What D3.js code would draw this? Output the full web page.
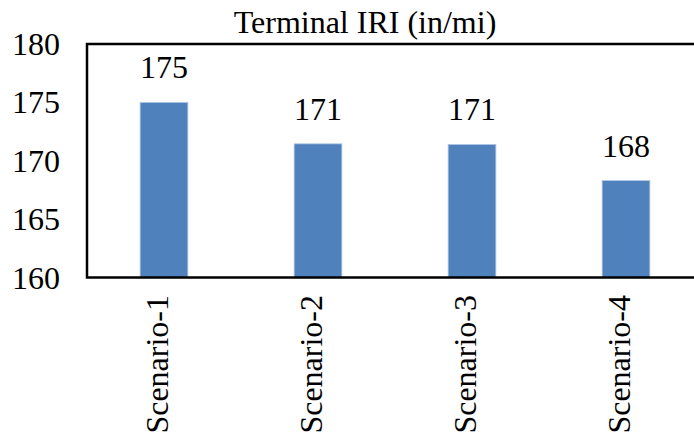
<!DOCTYPE html>
<html>
<head>
<meta charset="utf-8">
<script src="https://cdn.jsdelivr.net/npm/d3@7"></script>
</head>
<body style="margin:0">
<script>
// Terminal IRI per scenario
const categories = ["Scenario-1", "Scenario-2", "Scenario-3", "Scenario-4"];
const iriValues = [175.0, 171.45, 171.4, 168.3];
const yTicks = [160, 165, 170, 175, 180];
const chartTitle = "Terminal IRI (in/mi)";

const width = 694, height = 436;
const plot = { left: 87, right: 703, top: 44, bottom: 277.5 };
const serif = "'Liberation Serif', 'Times New Roman', serif";

const svg = d3.select("body").append("svg")
  .attr("width", width)
  .attr("height", height)
  .style("display", "block");

const x = d3.scaleBand()
  .domain(categories)
  .range([plot.left, plot.right])
  .paddingInner(0.69)
  .paddingOuter(0.345);

const y = d3.scaleLinear()
  .domain([160, 180])
  .range([plot.bottom, plot.top]);

const fmt = d3.format(".0f");

// title
svg.append("text")
  .attr("x", 365)
  .attr("y", 32.5)
  .attr("text-anchor", "middle")
  .attr("fill", "#000")
  .style("font-family", serif)
  .style("font-size", "32px")
  .text(chartTitle);

// bars
svg.append("g").selectAll("rect")
  .data(iriValues)
  .join("rect")
  .attr("x", (d, i) => x(categories[i]))
  .attr("y", d => y(d))
  .attr("width", x.bandwidth())
  .attr("height", d => y(160) - y(d))
  .attr("fill", "#4F81BD")
  .attr("stroke", "#b3c8e4")
  .attr("stroke-width", 0.8);

// value labels above bars
svg.append("g").selectAll("text")
  .data(iriValues)
  .join("text")
  .attr("x", (d, i) => x(categories[i]) + x.bandwidth() / 2)
  .attr("y", d => y(d) - 24)
  .attr("text-anchor", "middle")
  .attr("fill", "#000")
  .style("font-family", serif)
  .style("font-size", "32px")
  .text(d => fmt(d));

// y axis: labels only, no tick marks
const gy = svg.append("g")
  .attr("transform", `translate(${plot.left},0)`)
  .call(d3.axisLeft(y).tickValues(yTicks).tickSize(0).tickPadding(27).tickFormat(fmt));
gy.select(".domain").remove();
gy.selectAll("text")
  .attr("dy", "0.33em")
  .attr("fill", "#000")
  .style("font-family", serif)
  .style("font-size", "32px");

// x axis: rotated category labels
const gx = svg.append("g")
  .attr("transform", `translate(0,${plot.bottom})`)
  .call(d3.axisBottom(x).tickSize(0));
gx.select(".domain").remove();
gx.selectAll("text")
  .attr("transform", "translate(4,17.5) rotate(-90)")
  .attr("x", 0)
  .attr("y", 0)
  .attr("dy", 0)
  .attr("text-anchor", "end")
  .attr("fill", "#000")
  .style("font-family", serif)
  .style("font-size", "32px");

// plot frame
svg.append("rect")
  .attr("x", plot.left)
  .attr("y", y(180))
  .attr("width", plot.right - plot.left)
  .attr("height", y(160) - y(180))
  .attr("fill", "none")
  .attr("stroke", "#000")
  .attr("stroke-width", 2.5);
</script>
</body>
</html>
